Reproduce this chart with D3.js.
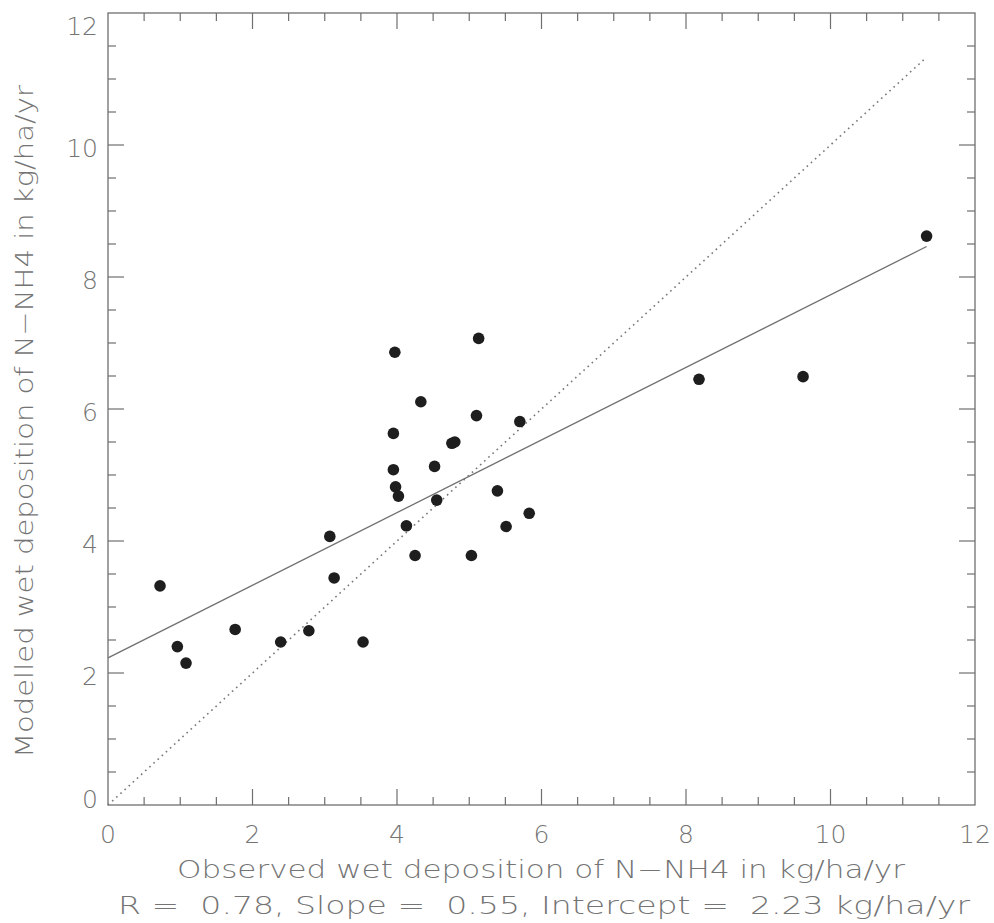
<!DOCTYPE html>
<html>
<head>
<meta charset="utf-8">
<script src="https://cdn.jsdelivr.net/npm/d3@7"></script>
<style>
  body { margin: 0; background: #fff; }
  text { font-family: "DejaVu Sans", sans-serif; font-weight: 200; fill: #747474; }
</style>
</head>
<body>
<div id="canvas"></div>
<script>
// Observed (x) and modelled (y) wet deposition of N-NH4, kg/ha/yr
const observed = [0.72, 0.96, 1.08, 1.76, 2.39, 2.78, 3.13, 3.53, 3.07, 5.13,
    3.97, 4.33, 5.10, 5.70, 3.95, 4.76, 4.80, 3.95, 4.52, 3.98,
    4.02, 5.39, 4.55, 5.83, 5.51, 4.13, 4.25, 5.03, 11.33, 8.18, 9.62]
const modelled = [3.32, 2.40, 2.15, 2.66, 2.47, 2.64, 3.44, 2.47, 4.07, 7.07,
    6.86, 6.11, 5.90, 5.81, 5.63, 5.48, 5.50, 5.08, 5.13, 4.82,
    4.68, 4.76, 4.62, 4.42, 4.22, 4.23, 3.78, 3.78, 8.62, 6.45, 6.49]

const majorTicks = [0, 2, 4, 6, 8, 10, 12]
const minorTicks = d3.range(0, 12.01, 0.5)
const slope = 0.55
const intercept = 2.23
const stats = 'R =  0.78, Slope =  0.55, Intercept =  2.23 kg/ha/yr'
const xTitle = 'Observed wet deposition of N\u2212NH4 in kg/ha/yr'
const yTitle = 'Modelled wet deposition of N\u2212NH4 in kg/ha/yr'

// Constants
const width = 994
const height = 923
const plotLeft = 108, plotRight = 975, plotTop = 13, plotBottom = 805
const axisColor = '#6f6f6f'

const x = d3.scaleLinear().domain([0, 12]).range([plotLeft, plotRight])
const y = d3.scaleLinear().domain([0, 12]).range([plotBottom, plotTop])

const svg = d3.select('#canvas')
    .append('svg').attr('width', width).attr('height', height)

// frame
svg.append('rect')
    .attr('x', plotLeft).attr('y', plotTop)
    .attr('width', plotRight - plotLeft).attr('height', plotBottom - plotTop)
    .attr('fill', 'none')
    .attr('stroke', axisColor)
    .attr('stroke-width', 1.3)

// inward ticks on all four sides
const isMajor = (d) => Math.abs(d - Math.round(d / 2) * 2) < 1e-6
const tickLen = (d) => isMajor(d) ? 16 : 8
const ticks = minorTicks.filter(d => d > 0 && d < 12)

const tickG = svg.append('g')
    .attr('stroke', axisColor)
    .attr('stroke-width', 1.2)
tickG.selectAll('.xb').data(ticks).join('line')
    .attr('x1', d => x(d)).attr('x2', d => x(d))
    .attr('y1', plotBottom).attr('y2', d => plotBottom - tickLen(d))
tickG.selectAll('.xt').data(ticks).join('line')
    .attr('x1', d => x(d)).attr('x2', d => x(d))
    .attr('y1', plotTop).attr('y2', d => plotTop + tickLen(d))
tickG.selectAll('.yl').data(ticks).join('line')
    .attr('y1', d => y(d)).attr('y2', d => y(d))
    .attr('x1', plotLeft).attr('x2', d => plotLeft + tickLen(d))
tickG.selectAll('.yr').data(ticks).join('line')
    .attr('y1', d => y(d)).attr('y2', d => y(d))
    .attr('x1', plotRight).attr('x2', d => plotRight - tickLen(d))

// tick labels
svg.append('g').selectAll('text').data(majorTicks).join('text')
    .attr('x', d => x(d))
    .attr('y', 843)
    .attr('text-anchor', 'middle')
    .attr('font-size', 25)
    .text(d => d)
svg.append('g').selectAll('text').data(majorTicks).join('text')
    .attr('x', 98)
    // keep the end labels inside the frame like the original
    .attr('y', d => Math.min(Math.max(y(d) + 3, 26), 799))
    .attr('dy', '0.36em')
    .attr('text-anchor', 'end')
    .attr('font-size', 25)
    .text(d => d)

// 1:1 line
svg.append('line')
    .attr('x1', x(0)).attr('y1', y(0))
    .attr('x2', x(d3.max(observed))).attr('y2', y(d3.max(observed)))
    .attr('stroke', '#777')
    .attr('stroke-width', 1.6)
    .attr('stroke-dasharray', '1.6,4')

// regression line
const fit = [0, d3.max(observed)]
svg.append('path')
    .attr('d', d3.line()(fit.map(d => [x(d), y(intercept + slope * d)])))
    .attr('stroke', '#707070')
    .attr('stroke-width', 1.3)
    .attr('fill', 'none')

// points
svg.append('g').selectAll('circle').data(observed).join('circle')
    .attr('cx', d => x(d))
    .attr('cy', (d, i) => y(modelled[i]))
    .attr('r', 5.8)
    .attr('fill', '#1e1e1e')

// titles
svg.append('text')
    .attr('x', 177).attr('y', 878)
    .attr('font-size', 25)
    .attr('textLength', 728)
    .attr('lengthAdjust', 'spacingAndGlyphs')
    .text(xTitle)
svg.append('text')
    .attr('x', 118).attr('y', 914)
    .attr('font-size', 25)
    .attr('textLength', 852)
    .attr('lengthAdjust', 'spacingAndGlyphs')
    .style('white-space', 'pre')
    .text(stats)
svg.append('text')
    .attr('transform', `translate(33,758) rotate(-90)`)
    .attr('font-size', 25)
    .attr('textLength', 673)
    .attr('lengthAdjust', 'spacingAndGlyphs')
    .text(yTitle)
</script>
</body>
</html>
